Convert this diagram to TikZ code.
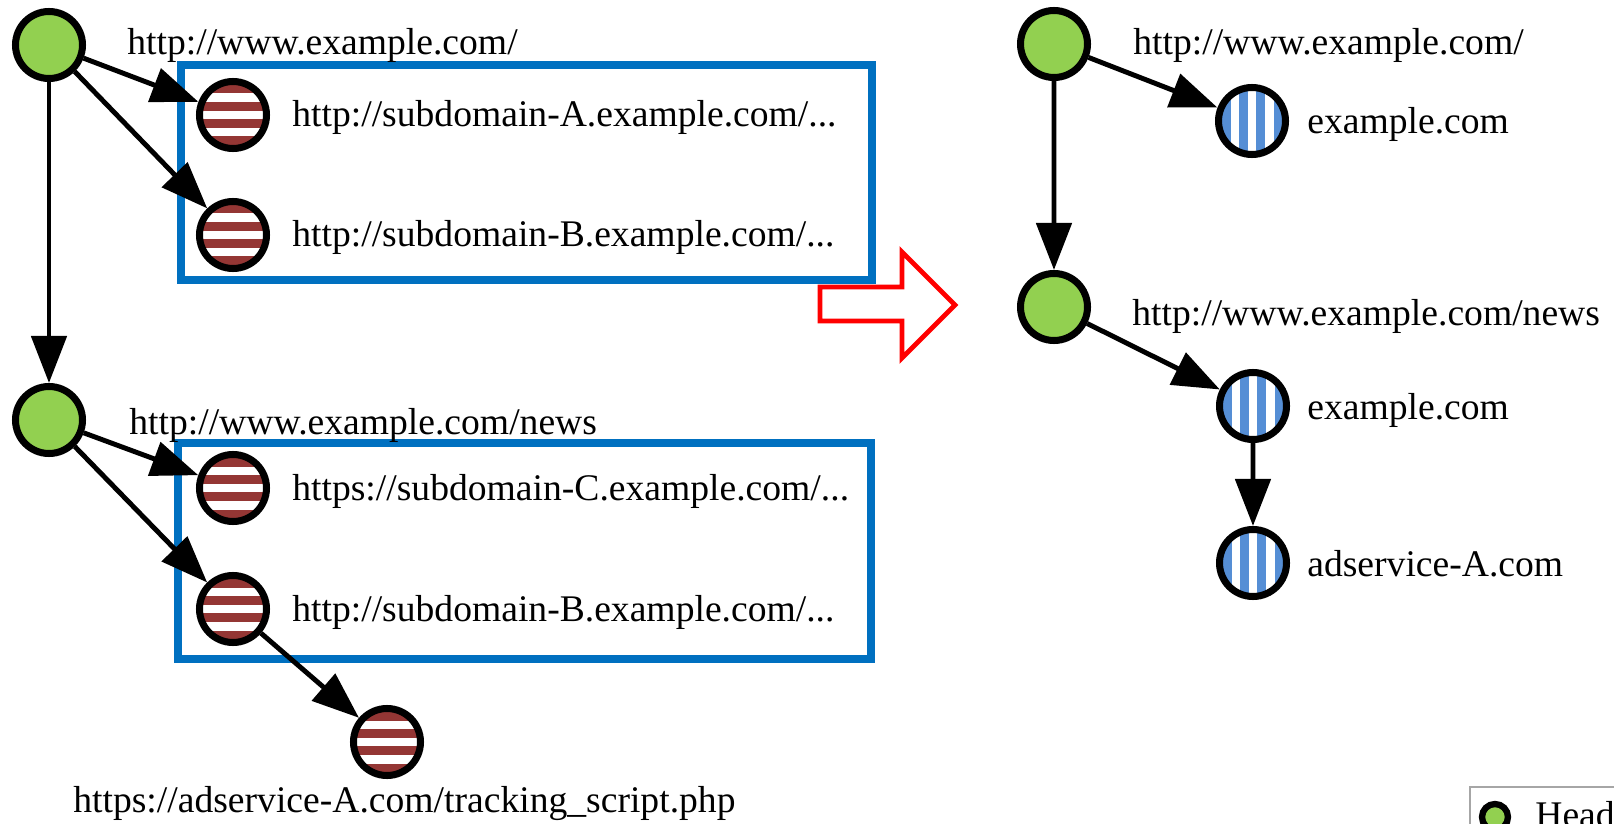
\documentclass[tikz,border=0pt]{standalone}
\usepackage{fontspec}
\setmainfont{Liberation Serif}
\usepackage{xcolor}
\usetikzlibrary{arrows.meta,positioning}

\definecolor{headgreen}{HTML}{92D050}
\definecolor{stripered}{HTML}{943634}
\definecolor{stripeblue}{HTML}{558ED5}
\definecolor{boxblue}{HTML}{0070C0}

\tikzset{
  redstripes/.style={path picture={
    \foreach \k in {-2,0,2}
      \fill[white] ([yshift=\k*0.172cm-0.086cm]path picture bounding box.west)
        rectangle ([yshift=\k*0.172cm+0.086cm]path picture bounding box.east);
  }},
  bluestripes/.style={path picture={
    \foreach \k in {-2,0,2}
      \fill[white] ([xshift=\k*0.172cm-0.086cm]path picture bounding box.south)
        rectangle ([xshift=\k*0.172cm+0.086cm]path picture bounding box.north);
  }},
}

\begin{document}
\begin{tikzpicture}[scale=0.2]
        \tikzstyle{every node}+=[inner sep=0pt]
        \tikzstyle{headnode}=[circle, draw=black, line width=4pt, minimum size=1.34cm, fill=headgreen]
        \tikzstyle{urlnode}=[circle, draw=black, line width=4pt, minimum size=1.34cm, fill=stripered, redstripes]
        \tikzstyle{domnode}=[circle, draw=black, line width=4pt, minimum size=1.34cm, fill=stripeblue, bluestripes]
        \tikzstyle{edge}=[black, line width=2.8pt, -{Triangle[length=0.94cm,width=0.7cm]}]
        \tikzstyle{lbl}=[anchor=base west, font=\fontsize{21.4}{25}\selectfont]
        \useasboundingbox (0,0) rectangle (161.4,-82.4);
        % left graph
        \draw [boxblue, line width=4pt] (18.1,-6.5) rectangle (87.2,-28.0);
        \draw [boxblue, line width=4pt] (17.8,-44.3) rectangle (87.1,-65.9);
        \node [headnode] (home) at (4.9,-4.5) {};
        \node [urlnode] (subA) at (23.3,-11.5) {};
        \node [urlnode] (subB) at (23.3,-23.5) {};
        \node [headnode] (news) at (4.9,-42.0) {};
        \node [urlnode] (subC) at (23.3,-48.8) {};
        \node [urlnode] (subB2) at (23.3,-60.9) {};
        \node [urlnode] (track) at (38.7,-74.2) {};
        \node [lbl] (homel) at (12.7,-5.5) {http://www.example.com/};
        \node [lbl] (subAl) at (29.2,-12.7) {http://subdomain-A.example.com/...};
        \node [lbl] (subBl) at (29.2,-24.7) {http://subdomain-B.example.com/...};
        \node [lbl] (newsl) at (12.9,-43.4) {http://www.example.com/news};
        \node [lbl] (subCl) at (29.2,-50.0) {https://subdomain-C.example.com/...};
        \node [lbl] (subB2l) at (29.2,-62.1) {http://subdomain-B.example.com/...};
        \node [lbl] (trackl) at (7.3,-81.2) {https://adservice-A.com/tracking\_script.php};
        \draw [edge] (home) -- (subA);
        \draw [edge] (home) -- (subB);
        \draw [edge] (home) -- (news);
        \draw [edge] (news) -- (subC);
        \draw [edge] (news) -- (subB2);
        \draw [edge] (subB2) -- (track);
        % red arrow
        \draw [red, line width=2.8pt, fill=white, line join=miter] (82.0,-28.7) -- (90.2,-28.7) -- (90.2,-25.2) -- (95.5,-30.5) -- (90.2,-35.8) -- (90.2,-32.1) -- (82.0,-32.1) -- cycle;
        % right graph
        \node [headnode] (rhome) at (105.4,-4.4) {};
        \node [domnode] (rdomA) at (125.2,-12.1) {};
        \node [headnode] (rnews) at (105.4,-30.7) {};
        \node [domnode] (rdomB) at (125.3,-40.6) {};
        \node [domnode] (rad) at (125.3,-56.3) {};
        \node [lbl] (rhomel) at (113.3,-5.5) {http://www.example.com/};
        \node [lbl] (rdomAl) at (130.7,-13.4) {example.com};
        \node [lbl] (rnewsl) at (113.2,-32.6) {http://www.example.com/news};
        \node [lbl] (rdomBl) at (130.7,-41.9) {example.com};
        \node [lbl] (radl) at (130.7,-57.6) {adservice-A.com};
        \draw [edge] (rhome) -- (rdomA);
        \draw [edge] (rhome) -- (rnews);
        \draw [edge] (rnews) -- (rdomB);
        \draw [edge] (rdomB) -- (rad);
        % legend
        \draw [gray!70, line width=1.2pt] (147.0,-78.7) rectangle (175,-95);
        \node [headnode, minimum size=0.52cm, line width=3.6pt] (lhead) at (149.5,-81.7) {};
        \node [lbl] (lheadl) at (153.5,-82.7) {Head};
\end{tikzpicture}
\end{document}
